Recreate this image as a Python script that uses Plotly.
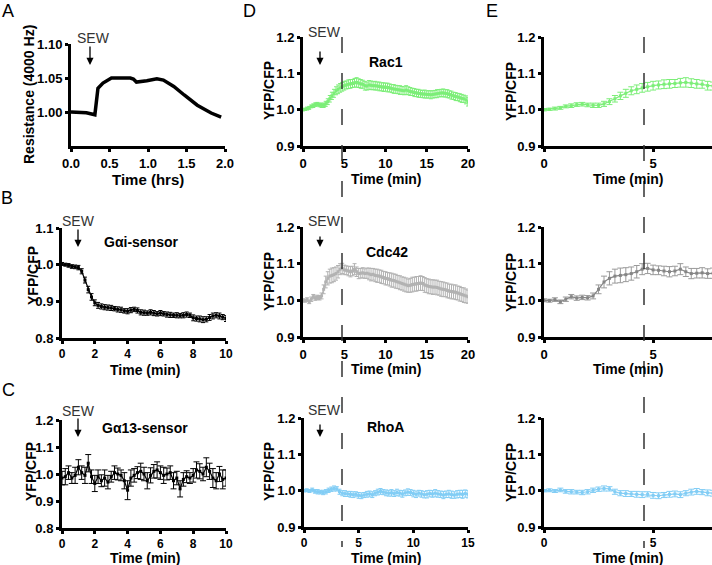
import plotly.graph_objects as go

W, H = 712, 565

# ---- data ----
# A: impedance (resistance at 4000 Hz) vs time in hours
res_t = [0.0, 0.1, 0.2, 0.31, 0.35, 0.415, 0.525, 0.65, 0.77, 0.81, 0.85, 0.985,
         1.115, 1.2, 1.335, 1.47, 1.64, 1.82, 1.95]
res_v = [1.000, 1.000, 0.999, 0.996, 1.035, 1.0425, 1.050, 1.050, 1.050, 1.0485, 1.044, 1.046,
         1.049, 1.047, 1.0375, 1.025, 1.010, 0.9985, 0.9925]

# B/C: sensors, 0-10 min sampled every 0.2 min
sens_t = [i * 0.2 for i in range(51)]
gai_v = [1.002, 1.000, 0.998, 0.995, 0.994, 0.992, 0.982, 0.958, 0.932, 0.912,
         0.896, 0.889, 0.886, 0.884, 0.883, 0.882, 0.880, 0.878, 0.877, 0.874,
         0.873, 0.876, 0.878, 0.875, 0.870, 0.869, 0.868, 0.870, 0.868, 0.866,
         0.868, 0.866, 0.864, 0.863, 0.862, 0.862, 0.861, 0.862, 0.864, 0.862,
         0.855, 0.853, 0.852, 0.850, 0.851, 0.856, 0.860, 0.862, 0.860, 0.857, 0.853]
gai_e = [0.004, 0.004, 0.005, 0.005, 0.005, 0.006, 0.007, 0.008, 0.009, 0.009,
         0.008, 0.008, 0.007, 0.007, 0.007, 0.007, 0.006, 0.007, 0.007, 0.006,
         0.007, 0.007, 0.006, 0.007, 0.007, 0.007, 0.006, 0.007, 0.007, 0.006,
         0.007, 0.006, 0.007, 0.007, 0.006, 0.007, 0.006, 0.007, 0.007, 0.006,
         0.008, 0.007, 0.008, 0.008, 0.007, 0.008, 0.008, 0.007, 0.008, 0.007, 0.008]
ga13_v = [0.985, 0.990, 1.005, 0.985, 0.995, 1.025, 1.005, 0.995, 1.040, 0.990,
          0.965, 0.990, 0.975, 0.985, 0.970, 0.990, 1.005, 1.000, 0.995, 0.975,
          0.940, 0.985, 0.995, 1.005, 1.010, 1.000, 0.975, 0.995, 1.010, 1.015,
          1.005, 0.995, 1.000, 1.005, 0.975, 0.985, 0.945, 0.980, 0.990, 0.985,
          0.995, 1.015, 1.010, 1.000, 1.025, 1.010, 0.985, 0.975, 1.000, 0.980, 0.985]
ga13_e = [0.025, 0.030, 0.025, 0.020, 0.030, 0.028, 0.025, 0.030, 0.032, 0.025,
          0.030, 0.025, 0.022, 0.030, 0.025, 0.020, 0.025, 0.022, 0.020, 0.030,
          0.035, 0.030, 0.025, 0.022, 0.030, 0.025, 0.030, 0.028, 0.025, 0.030,
          0.025, 0.030, 0.022, 0.025, 0.030, 0.025, 0.030, 0.025, 0.022, 0.020,
          0.025, 0.030, 0.028, 0.025, 0.035, 0.030, 0.035, 0.030, 0.028, 0.035, 0.030]

# D/E: Rho GTPase biosensors, sampled every 0.25 min
gtp_t = [i * 0.25 for i in range(81)]
rac1_v = [1.000, 1.001, 1.003, 1.005, 1.009, 1.011, 1.014, 1.015, 1.013, 1.012,
          1.012, 1.016, 1.022, 1.030, 1.038, 1.045, 1.052, 1.056, 1.060, 1.063,
          1.066, 1.068, 1.070, 1.071, 1.072, 1.074, 1.075, 1.073, 1.071, 1.070,
          1.066, 1.065, 1.068, 1.067, 1.066, 1.066, 1.065, 1.064, 1.063, 1.062,
          1.062, 1.061, 1.060, 1.058, 1.057, 1.056, 1.055, 1.054, 1.053, 1.052,
          1.054, 1.052, 1.050, 1.049, 1.047, 1.046, 1.045, 1.044, 1.043, 1.043,
          1.042, 1.042, 1.041, 1.042, 1.043, 1.044, 1.045, 1.046, 1.046, 1.045,
          1.044, 1.042, 1.040, 1.038, 1.036, 1.035, 1.033, 1.031, 1.030, 1.027, 1.022]
rac1_e = [0.003, 0.003, 0.004, 0.004, 0.004, 0.005, 0.005, 0.005, 0.005, 0.006,
          0.006, 0.007, 0.008, 0.009, 0.010, 0.011, 0.011, 0.012, 0.012, 0.012,
          0.012, 0.011, 0.012, 0.012, 0.011, 0.012, 0.013, 0.012, 0.012, 0.011,
          0.012, 0.011, 0.012, 0.012, 0.011, 0.012, 0.011, 0.012, 0.011, 0.012,
          0.011, 0.012, 0.011, 0.011, 0.012, 0.011, 0.011, 0.012, 0.011, 0.011,
          0.012, 0.011, 0.011, 0.010, 0.011, 0.010, 0.011, 0.010, 0.010, 0.011,
          0.010, 0.010, 0.011, 0.010, 0.010, 0.011, 0.010, 0.010, 0.011, 0.010,
          0.011, 0.010, 0.011, 0.010, 0.011, 0.010, 0.011, 0.011, 0.010, 0.011, 0.012]
cdc42_v = [1.000, 0.999, 1.002, 0.996, 1.003, 1.010, 1.006, 1.008, 1.007, 1.012,
           1.030, 1.050, 1.060, 1.066, 1.068, 1.070, 1.073, 1.078, 1.085, 1.087,
           1.083, 1.082, 1.080, 1.078, 1.080, 1.085, 1.078, 1.073, 1.074, 1.075,
           1.073, 1.074, 1.072, 1.070, 1.071, 1.068, 1.067, 1.066, 1.064, 1.062,
           1.060, 1.059, 1.057, 1.055, 1.054, 1.052, 1.050, 1.048, 1.046, 1.044,
           1.042, 1.040, 1.041, 1.043, 1.044, 1.045, 1.046, 1.047, 1.046, 1.042,
           1.040, 1.038, 1.037, 1.036, 1.036, 1.035, 1.033, 1.031, 1.030, 1.029,
           1.027, 1.025, 1.024, 1.023, 1.022, 1.020, 1.018, 1.016, 1.014, 1.012, 1.010]
cdc42_e = [0.004, 0.004, 0.005, 0.005, 0.006, 0.006, 0.006, 0.006, 0.006, 0.008,
           0.012, 0.016, 0.018, 0.019, 0.020, 0.019, 0.018, 0.017, 0.015, 0.014,
           0.013, 0.012, 0.013, 0.014, 0.013, 0.015, 0.013, 0.014, 0.013, 0.014,
           0.013, 0.014, 0.016, 0.017, 0.016, 0.017, 0.018, 0.017, 0.018, 0.017,
           0.018, 0.017, 0.018, 0.019, 0.018, 0.019, 0.018, 0.019, 0.018, 0.019,
           0.019, 0.018, 0.019, 0.020, 0.019, 0.020, 0.019, 0.020, 0.019, 0.020,
           0.019, 0.020, 0.019, 0.020, 0.019, 0.020, 0.019, 0.020, 0.020, 0.019,
           0.020, 0.019, 0.020, 0.019, 0.020, 0.019, 0.020, 0.019, 0.020, 0.019, 0.018]
rhoa_t = [i * 0.25 for i in range(61)]
rhoa_v = [1.000, 1.001, 0.999, 1.002, 0.998, 0.997, 0.996, 0.995, 0.997, 1.001,
          1.004, 1.006, 1.005, 0.997, 0.993, 0.992, 0.991, 0.990, 0.989, 0.990,
          0.987, 0.986, 0.988, 0.990, 0.991, 0.989, 0.993, 0.996, 0.998, 0.996,
          0.994, 0.993, 0.994, 0.992, 0.995, 0.993, 0.991, 0.994, 0.996, 0.995,
          0.992, 0.990, 0.993, 0.991, 0.989, 0.990, 0.992, 0.991, 0.993, 0.991,
          0.990, 0.988, 0.990, 0.991, 0.989, 0.988, 0.990, 0.991, 0.990, 0.992, 0.990]
rhoa_e = [0.003, 0.004, 0.004, 0.005, 0.005, 0.006, 0.005, 0.006, 0.006, 0.006,
          0.006, 0.007, 0.006, 0.007, 0.007, 0.008, 0.007, 0.008, 0.008, 0.007,
          0.008, 0.008, 0.007, 0.008, 0.008, 0.008, 0.007, 0.008, 0.008, 0.007,
          0.008, 0.008, 0.009, 0.008, 0.009, 0.008, 0.009, 0.008, 0.009, 0.008,
          0.009, 0.009, 0.008, 0.009, 0.009, 0.010, 0.009, 0.009, 0.010, 0.009,
          0.009, 0.010, 0.009, 0.010, 0.010, 0.009, 0.010, 0.010, 0.011, 0.010, 0.010]

GREEN, GREY_D, GREY_E, BLUE = "#7cee78", "#b2b2b2", "#858585", "#82cdf5"
FONT = "Liberation Sans, Arial, sans-serif"


def fx(px):
    return px / W


def fy(py):
    return 1 - py / H


# panel: box (x-left, x-right, y-top, y-bottom) in px, x range, y range, x ticks, y ticks,
# y format, x format, x tick font size
panels = [
    ((71, 225, 44, 146), [0, 2.0], [0.95, 1.10], [0, 0.5, 1.0, 1.5, 2.0], [1.00, 1.05, 1.10], ".2f", ".1f", 13),
    ((62, 226, 228, 338), [0, 10], [0.8, 1.1], [0, 2, 4, 6, 8, 10], [0.8, 0.9, 1.0, 1.1], ".1f", "d", 12),
    ((62, 226, 420, 528), [0, 10], [0.8, 1.2], [0, 2, 4, 6, 8, 10], [0.8, 0.9, 1.0, 1.1, 1.2], ".1f", "d", 12),
    ((303, 468, 37, 146), [0, 20], [0.9, 1.2], [0, 5, 10, 15, 20], [0.9, 1.0, 1.1, 1.2], ".1f", "d", 13),
    ((303, 468, 227, 337), [0, 20], [0.9, 1.2], [0, 5, 10, 15, 20], [0.9, 1.0, 1.1, 1.2], ".1f", "d", 13),
    ((304, 468, 418, 527), [0, 15], [0.9, 1.2], [0, 5, 10, 15], [0.9, 1.0, 1.1, 1.2], ".1f", "d", 12),
    ((544, 712, 37, 146), [0, 7.7], [0.9, 1.2], [0, 5], [0.9, 1.0, 1.1, 1.2], ".1f", "d", 13),
    ((544, 712, 227, 337), [0, 7.7], [0.9, 1.2], [0, 5], [0.9, 1.0, 1.1, 1.2], ".1f", "d", 13),
    ((544, 712, 418, 527), [0, 7.7], [0.9, 1.2], [0, 5], [0.9, 1.0, 1.1, 1.2], ".1f", "d", 12),
]

fig = go.Figure()
layout = {}
for i, (box, xr, yr, xt, yt, yfmt, xfmt, xfs) in enumerate(panels, start=1):
    x0, x1, y0, y1 = box
    sx = "" if i == 1 else str(i)
    common = dict(showline=True, linecolor="black", linewidth=3, showgrid=False, zeroline=False,
                  automargin=False, ticks="outside", ticklen=3, tickwidth=2.5, tickcolor="black")
    layout["xaxis" + sx] = dict(common, domain=[fx(x0), fx(x1)], range=xr, tickvals=xt,
                                 tickformat=xfmt, anchor="y" + sx,
                                 tickfont=dict(family=FONT, size=xfs, color="black", weight="bold"))
    layout["yaxis" + sx] = dict(common, domain=[fy(y1), fy(y0)], range=yr, tickvals=yt,
                                 tickformat=yfmt, anchor="x" + sx,
                                 tickfont=dict(family=FONT, size=13, color="black", weight="bold"))


def err_trace(x, y, e, color, line_color, ax, cap=2):
    return go.Scatter(x=x, y=y, mode="lines+markers", xaxis="x" + ax, yaxis="y" + ax,
                      line=dict(color=line_color, width=1.2),
                      marker=dict(symbol="square", size=3, color=line_color),
                      error_y=dict(type="data", array=e, color=color, thickness=1, width=cap),
                      showlegend=False, hoverinfo="skip")


fig.add_trace(go.Scatter(x=res_t, y=res_v, mode="lines", line=dict(color="black", width=3.5),
                         xaxis="x", yaxis="y", showlegend=False))
fig.add_trace(err_trace(sens_t, gai_v, gai_e, "black", "black", "2"))
fig.add_trace(err_trace(sens_t, ga13_v, ga13_e, "black", "black", "3", cap=3))
fig.add_trace(err_trace(gtp_t, rac1_v, rac1_e, GREEN, GREEN, "4"))
fig.add_trace(err_trace(gtp_t, cdc42_v, cdc42_e, GREY_D, GREY_D, "5"))
fig.add_trace(err_trace(rhoa_t, rhoa_v, rhoa_e, BLUE, BLUE, "6"))
fig.add_trace(err_trace(gtp_t, rac1_v, rac1_e, GREEN, GREEN, "7", cap=3))
fig.add_trace(err_trace(gtp_t, cdc42_v, cdc42_e, "#9a9a9a", GREY_E, "8", cap=3))
fig.add_trace(err_trace(rhoa_t, rhoa_v, rhoa_e, BLUE, BLUE, "9", cap=3))

ann = []


def txt(px, py, s, size=14, bold=True, angle=0, color="black"):
    ann.append(dict(x=fx(px), y=fy(py), xref="paper", yref="paper", text=s, showarrow=False,
                    textangle=angle, xanchor="center", yanchor="middle",
                    font=dict(family=FONT, size=size, color=color,
                              weight="bold" if bold else "normal")))


# panel letters
for letter, px, py in [("A", 8, 11), ("B", 7, 198), ("C", 8, 390), ("D", 249, 11), ("E", 492, 11)]:
    txt(px, py, letter, size=18, bold=False)

# axis titles
txt(29, 95, "Resistance (4000 Hz)", size=14, angle=-90)
txt(148, 179, "Time (hrs)", size=15)
txt(33, 276, "YFP/CFP", size=14, angle=-90)
txt(145, 370, "Time (min)", size=14)
txt(31, 472, "YFP/CFP", size=14, angle=-90)
txt(145, 558, "Time (min)", size=14)
for row_mid, row_title in [(91, 179), (282, 369), (472, 558)]:
    txt(269, row_mid, "YFP/CFP", size=14, angle=-90)
    txt(386, row_title, "Time (min)", size=14)
    txt(511, row_mid, "YFP/CFP", size=14, angle=-90)
    txt(628, row_title, "Time (min)", size=14)

# construct labels
txt(141, 242, "G\u03b1i-sensor", size=14)
txt(145, 428, "G\u03b113-sensor", size=14)
txt(386, 62, "Rac1", size=14)
txt(387, 252, "Cdc42", size=14)
txt(385, 427, "RhoA", size=14)

# SEW markers: (text x, text y, arrow x, arrow top, arrow bottom) in px
for tx, ty, axp, a0, a1 in [(94, 38, 90, 45, 65), (78, 221, 78, 228, 247), (78, 411, 78, 417, 437),
                            (324, 32, 320, 50, 65), (324, 221, 320, 235, 247), (324, 410, 320, 423, 437)]:
    txt(tx, ty, "SEW", size=14, bold=False, color="#333333")
    ann.append(dict(x=fx(axp), y=fy(a1), xref="paper", yref="paper", text="", showarrow=True,
                    ax=0, ay=-(a1 - a0), arrowhead=2, arrowsize=1.1, arrowwidth=1.3,
                    arrowcolor="black"))

# dashed time markers running through columns D and E
shapes = []
for xpx, ytop, ybot in [(342, 37, 547), (644, 37, 548)]:
    shapes.append(dict(type="line", xref="paper", yref="paper", x0=fx(xpx), x1=fx(xpx),
                       y0=fy(ytop), y1=fy(ybot), line=dict(color="#333333", width=1.5, dash="16px,20px")))

fig.update_layout(layout)
fig.update_layout(width=W, height=H, margin=dict(l=0, r=0, t=0, b=0, autoexpand=False),
                  paper_bgcolor="white", plot_bgcolor="white",
                  annotations=ann, shapes=shapes, font=dict(family=FONT))

fig.write_html("out.html", config={"displayModeBar": False},
               post_script="document.body.style.margin='0';")
